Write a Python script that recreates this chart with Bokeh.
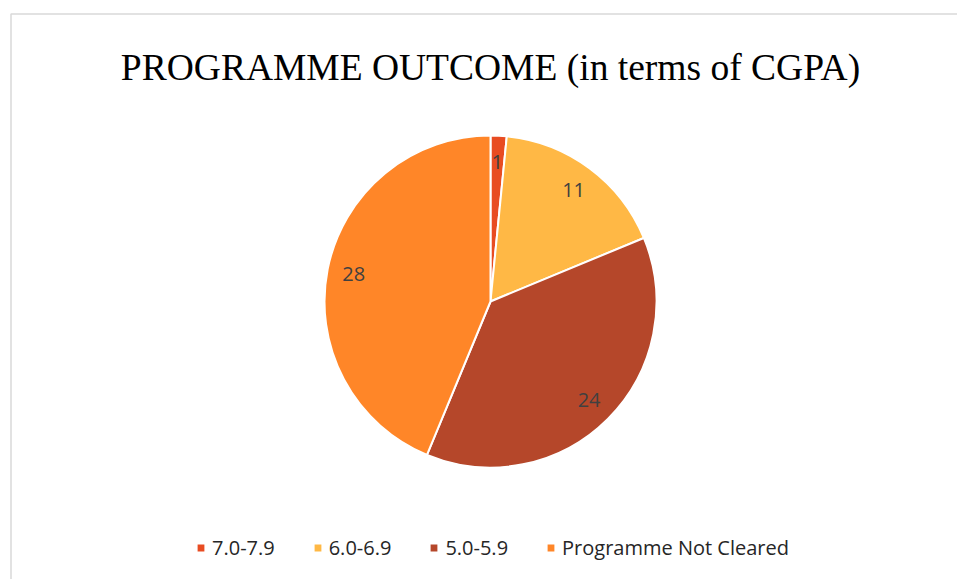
import numpy as np
from bokeh.plotting import figure
from bokeh.models import ColumnDataSource, Range1d, Legend, LegendItem
from bokeh.core.properties import value
from bokeh.embed import file_html
from bokeh.resources import INLINE

# ---- data ----
categories = ["7.0-7.9", "6.0-6.9", "5.0-5.9", "Programme Not Cleared"]
counts = [1, 11, 24, 28]
colors = ["#E84C22", "#FFB845", "#B5472A", "#FF8628"]
title_text = "PROGRAMME OUTCOME (in terms of CGPA)"

W, H = 957, 579
cx, cy, R = 490, 278, 166

vals = np.array(counts, dtype=float)
frac = vals / vals.sum()
cum = np.concatenate([[0], np.cumsum(frac)])
start = np.pi / 2 - cum[:-1] * 2 * np.pi
end = np.pi / 2 - cum[1:] * 2 * np.pi
mid = (start + end) / 2
lr = 0.84 * R

src = ColumnDataSource(dict(
    cat=categories, val=counts, color=colors,
    start=start, end=end,
    lx=cx + lr * np.cos(mid), ly=cy + lr * np.sin(mid),
    lab=[str(c) for c in counts],
))

p = figure(width=W, height=H, output_backend="svg", toolbar_location=None,
           x_range=Range1d(0, W), y_range=Range1d(0, H),
           min_border=0, min_border_left=0, min_border_right=0,
           min_border_top=0, min_border_bottom=0)
p.axis.visible = False
p.grid.visible = False
p.outline_line_color = None
p.background_fill_color = "white"
p.border_fill_color = "white"

# chart border (gray)
p.line(x=[10.5, 10.5, W + 20], y=[-20, 565.5, 565.5], line_color="#D9D9D9", line_width=1.5)

r = p.wedge(x=cx, y=cy, radius=R, start_angle="start", end_angle="end",
            direction="clock", fill_color="color", line_color="white",
            line_width=2, source=src)

p.text(x="lx", y="ly", text="lab", source=src, text_align="center",
       text_baseline="middle", text_color="#404040",
       text_font=value("Open Sans"), text_font_size="20px")

p.text(x=[490], y=[512], text=[title_text], text_align="center",
       text_baseline="alphabetic", text_color="black",
       text_font=value("Liberation Serif"), text_font_size="37.5px")

items = [LegendItem(label=c, renderers=[r], index=i) for i, c in enumerate(categories)]
legend = Legend(items=items, orientation="horizontal", location=(195, 18),
                padding=0, margin=0, spacing=37, label_standoff=6,
                glyph_width=11, glyph_height=11, label_height=22,
                label_text_font="Open Sans", label_text_font_size="20px",
                label_text_color="#262626",
                border_line_color=None, background_fill_alpha=0)
p.add_layout(legend, "center")

open("out.html", "w").write(file_html(p, INLINE))
